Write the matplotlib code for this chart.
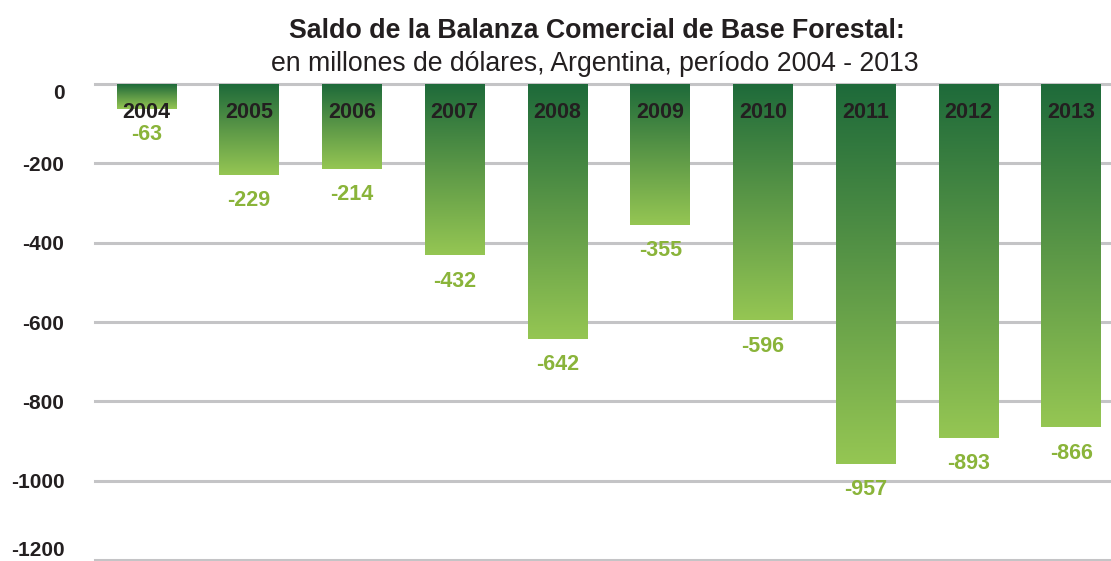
import numpy as np
import matplotlib.pyplot as plt
from matplotlib.colors import LinearSegmentedColormap

years = ['2004', '2005', '2006', '2007', '2008', '2009', '2010', '2011', '2012', '2013']
saldo = [-63, -229, -214, -432, -642, -355, -596, -957, -893, -866]
yticks = [0, -200, -400, -600, -800, -1000, -1200]

plt.rcParams['font.family'] = ['Liberation Sans', 'DejaVu Sans']

fig = plt.figure(figsize=(11.11, 5.61), dpi=100)
ax = fig.add_axes([0.0855, 0.002, 0.925, 0.848])

cmap = LinearSegmentedColormap.from_list('verde', ['#1e6a3a', '#5c9847', '#95c653'])
grad = np.linspace(0, 1, 256).reshape(-1, 1)
width = 0.58

x = np.arange(len(years))
bars = ax.bar(x, saldo, width=width, color='none', zorder=3)
for b, yr, v in zip(bars, years, saldo):
    x0 = b.get_x()
    ax.imshow(grad, cmap=cmap, aspect='auto', extent=(x0, x0 + width, v, 0),
              origin='upper', zorder=3)
    ax.text(x0 + width / 2, -72, yr, ha='center', va='center',
            fontsize=15.5, fontweight='bold', color='#231f20', zorder=4)
    ax.annotate(str(v), (x0 + width / 2, v), xytext=(0, -18.5),
                textcoords='offset points', ha='center', va='center',
                fontsize=15.5, fontweight='bold', color='#8ab43a', zorder=4)

ax.set_xlim(-0.5, len(years) - 0.5)
ax.set_ylim(-1200, 0)
ax.set_yticks(yticks)
ax.set_yticklabels([str(t) for t in yticks], fontsize=15, fontweight='bold', color='#231f20')
ax.get_yticklabels()[0].set_va('top')
ax.get_yticklabels()[-1].set_va('bottom')
ax.set_xticks([])
ax.tick_params(axis='y', length=0, pad=22)
for s in ax.spines.values():
    s.set_visible(False)
ax.yaxis.grid(True, color='#c4c4c6', linewidth=2.2, zorder=0)
for gl in ax.get_ygridlines():
    gl.set_clip_on(False)
ax.set_axisbelow(True)

fig.text(0.537, 0.945, 'Saldo de la Balanza Comercial de Base Forestal:', ha='center',
         va='center', fontsize=19.3, fontweight='bold', color='#231f20')
fig.text(0.535, 0.886, 'en millones de dólares, Argentina, período 2004 - 2013', ha='center',
         va='center', fontsize=19.2, color='#231f20')

fig.savefig('out.png', dpi=100)
